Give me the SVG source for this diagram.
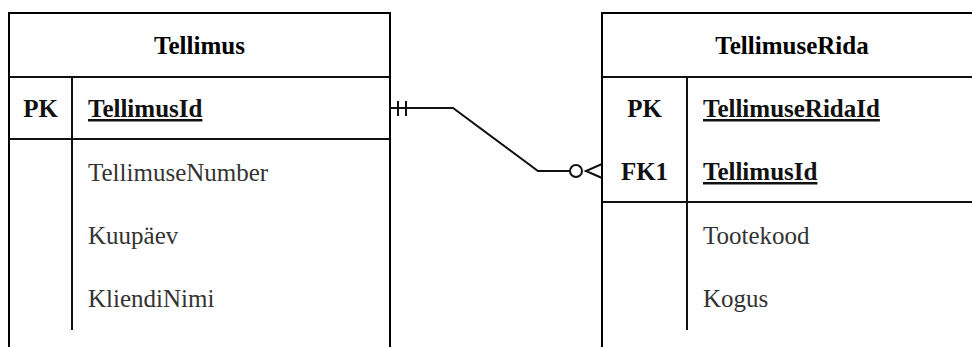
<svg xmlns="http://www.w3.org/2000/svg" width="972" height="347" viewBox="0 0 972 347">
<style>
.bd{fill:none;stroke:#000;stroke-width:2}
.ln{fill:none;stroke:#111;stroke-width:2}
text{font-family:'Liberation Serif','DejaVu Serif',serif;font-size:25px}
.hd{font-weight:bold;fill:#000;text-anchor:middle}
.key{font-weight:bold;fill:#111;text-anchor:middle}
.pk{font-weight:bold;fill:#111;text-decoration:underline}
.fd{fill:#333}
.cn{fill:none;stroke:#111;stroke-width:2}
</style>
<rect width="972" height="347" fill="#fff"/>
<g id="Tellimus">
<path class="bd" d="M9,348 V13 H390 V348"/>
<line class="ln" x1="9" y1="77" x2="390" y2="77"/>
<line class="ln" x1="9" y1="139" x2="390" y2="139"/>
<line class="ln" x1="72" y1="77" x2="72" y2="330"/>
<text class="hd" x="199.5" y="54">Tellimus</text>
<text class="key" x="40.5" y="117">PK</text>
<text class="pk" x="88" y="117">TellimusId</text>
<text class="fd" x="88" y="181">TellimuseNumber</text>
<text class="fd" x="88" y="244">Kuupäev</text>
<text class="fd" x="88" y="307">KliendiNimi</text>
</g>
<g id="TellimuseRida">
<path class="bd" d="M602,348 V13 H983"/>
<line class="ln" x1="602" y1="77" x2="983" y2="77"/>
<line class="ln" x1="602" y1="202" x2="983" y2="202"/>
<line class="ln" x1="687" y1="77" x2="687" y2="330"/>
<text class="hd" x="792" y="54">TellimuseRida</text>
<text class="key" x="644.5" y="117">PK</text>
<text class="pk" x="703" y="117">TellimuseRidaId</text>
<text class="key" x="644.5" y="180">FK1</text>
<text class="pk" x="703" y="180">TellimusId</text>
<text class="fd" x="703" y="244">Tootekood</text>
<text class="fd" x="703" y="307">Kogus</text>
</g>
<g id="connectors">
<path class="cn" d="M390,108 H453 L538,171 H570"/>
<line class="cn" x1="398" y1="101" x2="398" y2="116"/>
<line class="cn" x1="406" y1="101" x2="406" y2="116"/>
<circle class="cn" cx="576" cy="171" r="6"/>
<path class="cn" d="M602,164 L586,171 L602,178"/>
</g>
</svg>
